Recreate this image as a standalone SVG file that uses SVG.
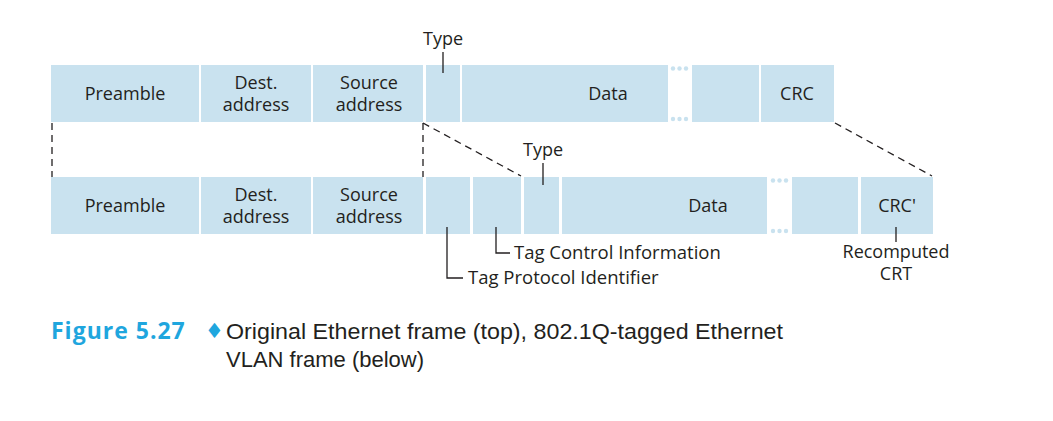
<svg xmlns="http://www.w3.org/2000/svg" width="1053" height="421" viewBox="0 0 1053 421">
<style>
.c{fill:#c9e2ef}
.t{font-family:"Open Sans","Liberation Sans",sans-serif;font-size:18px;fill:#231f20;text-anchor:middle}
.ts{font-family:"Open Sans","Liberation Sans",sans-serif;font-size:18.5px;fill:#231f20}
.d{stroke:#231f20;stroke-width:1.3;stroke-dasharray:7 5;fill:none}
.l{stroke:#231f20;stroke-width:1.3;fill:none}
.dot{fill:#c9e2ef}
</style>
<rect width="1053" height="421" fill="#fff"/>
<g id="top-frame">
<g id="t-preamble"><rect class="c" x="51" y="65" width="148" height="57"/><text class="t" x="125" y="100" font-size="18.5">Preamble</text></g>
<g id="t-dest"><rect class="c" x="201" y="65" width="110" height="57"/><text class="t" x="256" y="89">Dest.</text><text class="t" x="256" y="111">address</text></g>
<g id="t-source"><rect class="c" x="313" y="65" width="110" height="57"/><text class="t" x="369" y="89">Source</text><text class="t" x="369" y="111">address</text></g>
<g id="t-type"><rect class="c" x="426" y="65" width="34" height="57"/><text class="t" x="443" y="45">Type</text><line class="l" x1="443" y1="52" x2="443" y2="73"/></g>
<g id="t-data"><rect class="c" x="462" y="65" width="206" height="57"/><text class="t" x="608" y="100" font-size="18.5">Data</text></g>
<g id="t-dots"><circle class="dot" cx="673" cy="68.5" r="2.2"/><circle class="dot" cx="679.5" cy="68.5" r="2.2"/><circle class="dot" cx="686" cy="68.5" r="2.2"/><circle class="dot" cx="673" cy="119" r="2.2"/><circle class="dot" cx="679.5" cy="119" r="2.2"/><circle class="dot" cx="686" cy="119" r="2.2"/></g>
<g id="t-blank"><rect class="c" x="692" y="65" width="67" height="57"/></g>
<g id="t-crc"><rect class="c" x="761" y="65" width="73" height="57"/><text class="t" x="797" y="100" font-size="18.5">CRC</text></g>
</g>
<g id="connectors">
<line class="d" x1="52" y1="123" x2="52" y2="177"/>
<line class="d" x1="423" y1="123" x2="423" y2="177"/>
<line class="d" x1="423" y1="123" x2="521" y2="176"/>
<line class="d" x1="835" y1="123" x2="932" y2="176"/>
</g>
<g id="bottom-frame">
<g id="b-preamble"><rect class="c" x="51" y="177" width="148" height="57"/><text class="t" x="125" y="212" font-size="18.5">Preamble</text></g>
<g id="b-dest"><rect class="c" x="201" y="177" width="110" height="57"/><text class="t" x="256" y="201">Dest.</text><text class="t" x="256" y="223">address</text></g>
<g id="b-source"><rect class="c" x="313" y="177" width="110" height="57"/><text class="t" x="369" y="201">Source</text><text class="t" x="369" y="223">address</text></g>
<g id="b-tpid"><rect class="c" x="426" y="177" width="44" height="57"/><path class="l" d="M447 227V278H463"/><text class="ts" x="468" y="284">Tag Protocol Identifier</text></g>
<g id="b-tci"><rect class="c" x="473" y="177" width="48" height="57"/><path class="l" d="M496 227V253H510"/><text class="ts" x="514" y="259">Tag Control Information</text></g>
<g id="b-type"><rect class="c" x="524" y="177" width="35" height="57"/><text class="t" x="543" y="156">Type</text><line class="l" x1="543" y1="163" x2="543" y2="185"/></g>
<g id="b-data"><rect class="c" x="562" y="177" width="205" height="57"/><text class="t" x="708" y="212" font-size="18.5">Data</text></g>
<g id="b-dots"><circle class="dot" cx="773" cy="180.5" r="2.2"/><circle class="dot" cx="779.5" cy="180.5" r="2.2"/><circle class="dot" cx="786" cy="180.5" r="2.2"/><circle class="dot" cx="773" cy="231" r="2.2"/><circle class="dot" cx="779.5" cy="231" r="2.2"/><circle class="dot" cx="786" cy="231" r="2.2"/></g>
<g id="b-blank"><rect class="c" x="792" y="177" width="66" height="57"/></g>
<g id="b-crc"><rect class="c" x="861" y="177" width="72" height="57"/><text class="t" x="897" y="212" font-size="18.5">CRC'</text><line class="l" x1="896" y1="227" x2="896" y2="242"/><text class="t" x="896" y="258">Recomputed</text><text class="t" x="896" y="280">CRT</text></g>
</g>
<g id="caption">
<text x="51" y="339" font-family="'Open Sans','Liberation Sans',sans-serif" font-size="23" font-weight="bold" letter-spacing="1" fill="#1fa6de">Figure 5.27</text>
<text x="205" y="338" font-family="'DejaVu Sans',sans-serif" font-size="21" fill="#1fa6de">♦</text>
<text x="226" y="339" font-family="'Liberation Sans',sans-serif" font-size="22" fill="#231f20" textLength="557" lengthAdjust="spacingAndGlyphs">Original Ethernet frame (top), 802.1Q-tagged Ethernet</text>
<text x="226" y="367" font-family="'Liberation Sans',sans-serif" font-size="22" fill="#231f20">VLAN frame (below)</text>
</g>
</svg>
